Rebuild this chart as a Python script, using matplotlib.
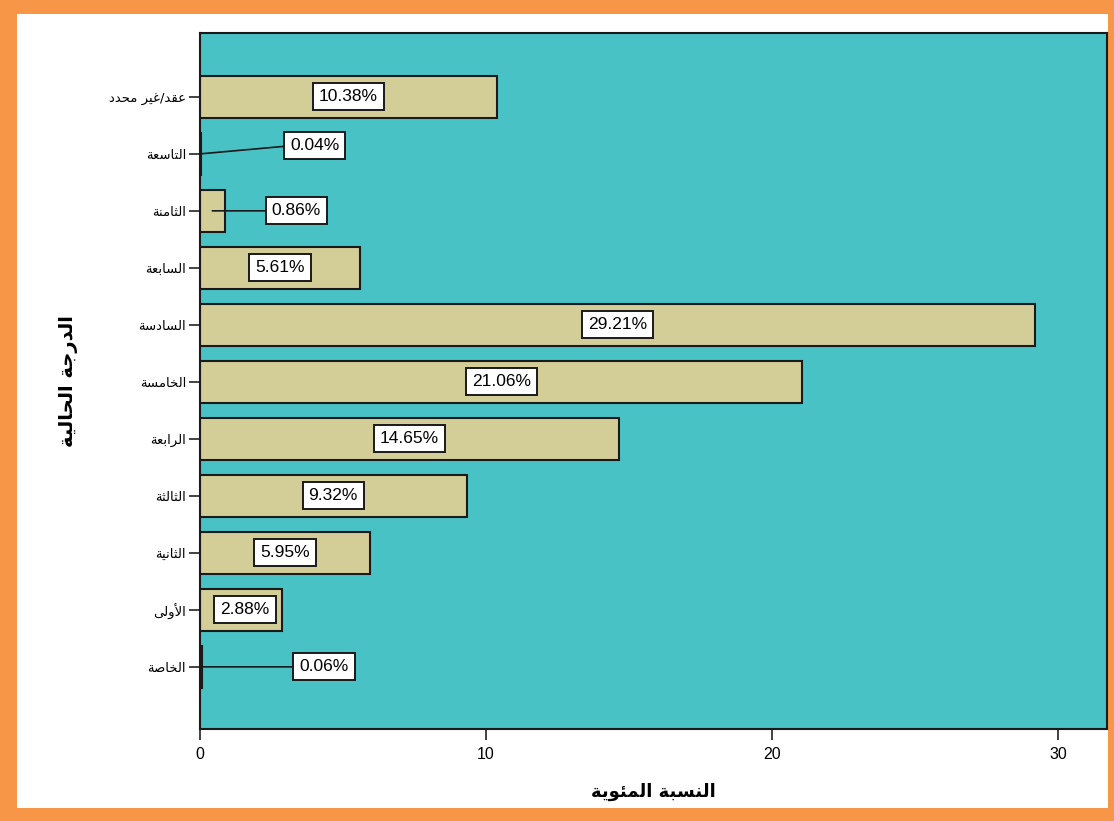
import matplotlib
matplotlib.use("Agg")
import matplotlib.pyplot as plt
from matplotlib.patches import Rectangle

# الدرجات الوظيفية من الأعلى إلى الأسفل
grades = ["عقد/غير محدد", "التاسعة", "الثامنة", "السابعة", "السادسة", "الخامسة",
          "الرابعة", "الثالثة", "الثانية", "الأولى", "الخاصة"]
percent = [10.38, 0.04, 0.86, 5.61, 29.21, 21.06, 14.65, 9.32, 5.95, 2.88, 0.06]
x_ticks = [0, 10, 20, 30]

y_title = "الدرجة الحالية"
x_title = "النسبة المئوية"

# أشكال الحروف: منفصل، نهائي، ابتدائي، وسطي
FORMS = {
    '\u0623': (0xFE83, 0xFE84, None, None),
    '\u0626': (0xFE89, 0xFE8A, 0xFE8B, 0xFE8C),
    '\u0627': (0xFE8D, 0xFE8E, None, None),
    '\u0628': (0xFE8F, 0xFE90, 0xFE91, 0xFE92),
    '\u0629': (0xFE93, 0xFE94, None, None),
    '\u062A': (0xFE95, 0xFE96, 0xFE97, 0xFE98),
    '\u062B': (0xFE99, 0xFE9A, 0xFE9B, 0xFE9C),
    '\u062C': (0xFE9D, 0xFE9E, 0xFE9F, 0xFEA0),
    '\u062D': (0xFEA1, 0xFEA2, 0xFEA3, 0xFEA4),
    '\u062E': (0xFEA5, 0xFEA6, 0xFEA7, 0xFEA8),
    '\u062F': (0xFEA9, 0xFEAA, None, None),
    '\u0631': (0xFEAD, 0xFEAE, None, None),
    '\u0633': (0xFEB1, 0xFEB2, 0xFEB3, 0xFEB4),
    '\u0635': (0xFEB9, 0xFEBA, 0xFEBB, 0xFEBC),
    '\u0639': (0xFEC9, 0xFECA, 0xFECB, 0xFECC),
    '\u063A': (0xFECD, 0xFECE, 0xFECF, 0xFED0),
    '\u0642': (0xFED5, 0xFED6, 0xFED7, 0xFED8),
    '\u0644': (0xFEDD, 0xFEDE, 0xFEDF, 0xFEE0),
    '\u0645': (0xFEE1, 0xFEE2, 0xFEE3, 0xFEE4),
    '\u0646': (0xFEE5, 0xFEE6, 0xFEE7, 0xFEE8),
    '\u0648': (0xFEED, 0xFEEE, None, None),
    '\u0649': (0xFEEF, 0xFEF0, None, None),
    '\u064A': (0xFEF1, 0xFEF2, 0xFEF3, 0xFEF4),
}
LAM_ALEF = {'\u0627': (0xFEFB, 0xFEFC), '\u0623': (0xFEF7, 0xFEF8)}


def joins_next(c):
    return c in FORMS and FORMS[c][2] is not None


def shape(text):
    # وصل الحروف ثم قلب الترتيب للعرض من اليمين لليسار
    out = []
    prev = None
    i = 0
    n = len(text)
    while i < n:
        c = text[i]
        if c not in FORMS:
            out.append(c)
            prev = None
            i += 1
            continue
        link_prev = prev is not None and joins_next(prev)
        if c == '\u0644' and i + 1 < n and text[i + 1] in LAM_ALEF:
            iso, fin = LAM_ALEF[text[i + 1]]
            out.append(chr(fin if link_prev else iso))
            prev = text[i + 1]
            i += 2
            continue
        nxt = text[i + 1] if i + 1 < n else None
        link_next = joins_next(c) and nxt in FORMS
        iso, fin, ini, med = FORMS[c]
        if link_prev and link_next:
            g = med
        elif link_prev:
            g = fin
        elif link_next:
            g = ini
        else:
            g = iso
        out.append(chr(g))
        prev = c
        i += 1
    return ''.join(reversed(out))


fig = plt.figure(figsize=(11.14, 8.21), dpi=100)
fig.patch.set_facecolor("#F79646")
fig.patches.append(Rectangle((17 / 1114, 1 - 808 / 821), (1108 - 17) / 1114, (808 - 14) / 821,
                             transform=fig.transFigure, facecolor="white",
                             edgecolor="none", zorder=-1))

ax = fig.add_axes([200 / 1114, 1 - 729 / 821, (1107 - 200) / 1114, (729 - 33) / 821])
ax.set_facecolor("#48C2C5")

n = len(grades)
ypos = [n - 1 - i for i in range(n)]
ax.barh(ypos, percent, height=0.74, color="#D3CE98", edgecolor="#1a1a1a", linewidth=1.5, zorder=2)

ax.set_xlim(0, 31.71)
ax.set_ylim(-1.09, n - 1 + 1.12)

# مواضع خاصة للتسميات الصغيرة (إزاحة بالبيكسل)
small_offsets = {"التاسعة": (114, 8), "الثامنة": (84, 0), "الخاصة": (123, 0)}

box = dict(boxstyle="square,pad=0.35", facecolor="white", edgecolor="#1a1a1a", linewidth=1.4)
for name, v, y in zip(grades, percent, ypos):
    label = f"{v:.2f}%"
    if name in small_offsets:
        dx, dy = small_offsets[name]
        ax.annotate(label, xy=(v / 2, y), xytext=(dx, dy), textcoords="offset pixels",
                    ha="center", va="center", fontsize=12.5, family="Liberation Sans",
                    bbox=box, zorder=4,
                    arrowprops=dict(arrowstyle="-", color="#1a1a1a", lw=1.2,
                                    shrinkA=0, shrinkB=0, relpos=(0, 0.5)))
    else:
        ax.text(max(v / 2, 1.57), y, label, ha="center", va="center", fontsize=12.5,
                family="Liberation Sans", bbox=box, zorder=4)

ax.set_yticks(ypos)
ax.set_yticklabels([shape(g) for g in grades], family="DejaVu Sans", fontsize=9.5)
ax.set_xticks(x_ticks)
ax.set_xticklabels([str(t) for t in x_ticks], family="Liberation Sans", fontsize=11.5)
ax.tick_params(axis="both", direction="out", length=8, width=1.2, color="#222222")
ax.tick_params(axis="x", pad=5)
ax.tick_params(axis="y", pad=2)

for s in ax.spines.values():
    s.set_linewidth(1.5)
    s.set_color("#1a1a1a")

ax.set_ylabel(shape(y_title), family="DejaVu Sans", fontweight="bold", fontsize=14, labelpad=22)
ax.set_xlabel(shape(x_title), family="DejaVu Sans", fontweight="bold", fontsize=13, labelpad=15)

fig.savefig("out.png", dpi=100, facecolor=fig.get_facecolor())
